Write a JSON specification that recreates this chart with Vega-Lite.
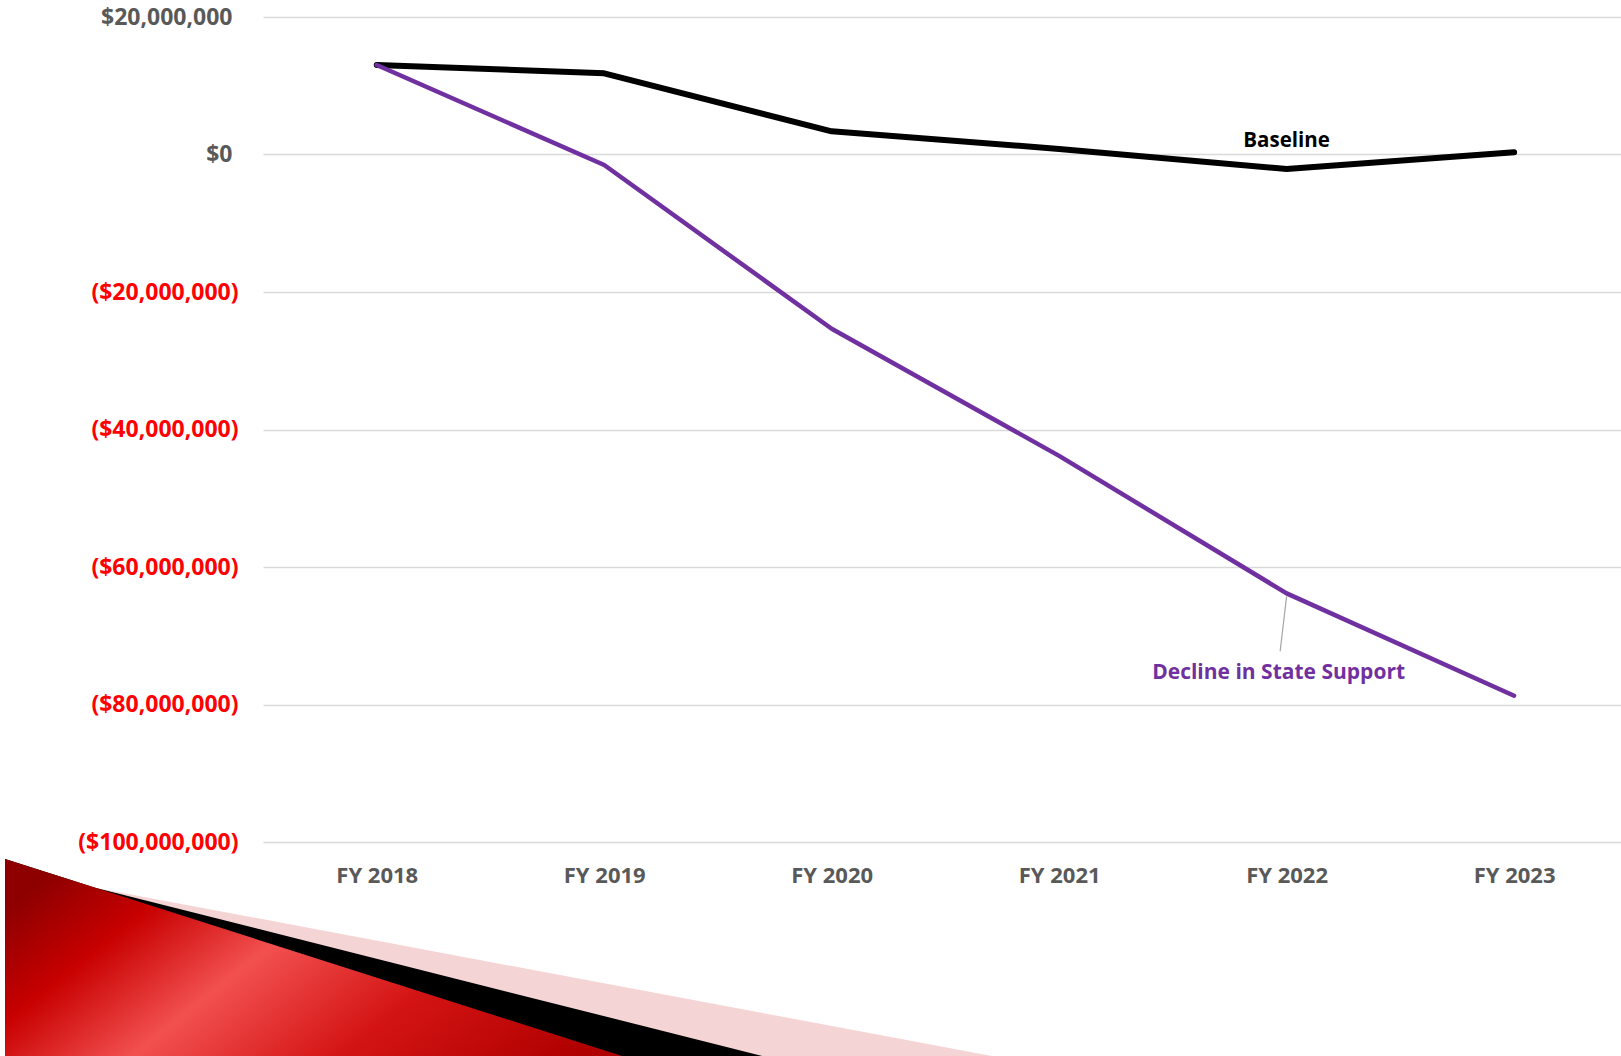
{
  "$schema": "https://vega.github.io/schema/vega-lite/v6.json",
  "autosize": {"type": "none"},
  "padding": {"left": 263, "top": 17, "right": 0, "bottom": 214},
  "width": 1358,
  "height": 825,
  "background": "white",
  "config": {"view": {"stroke": null}, "font": "Open Sans"},
  "datasets": {
    "fy": [
      {"year": 2018, "series": "Baseline", "value": 13020000},
      {"year": 2019, "series": "Baseline", "value": 11810000},
      {"year": 2020, "series": "Baseline", "value": 3370000},
      {"year": 2021, "series": "Baseline", "value": 810000},
      {"year": 2022, "series": "Baseline", "value": -2110000},
      {"year": 2023, "series": "Baseline", "value": 320000},
      {"year": 2018, "series": "Decline in State Support", "value": 13020000},
      {"year": 2019, "series": "Decline in State Support", "value": -1530000},
      {"year": 2020, "series": "Decline in State Support", "value": -25350000},
      {"year": 2021, "series": "Decline in State Support", "value": -43840000},
      {"year": 2022, "series": "Decline in State Support", "value": -63830000},
      {"year": 2023, "series": "Decline in State Support", "value": -78720000}
    ],
    "swoosh": [
      {"piece": "pink", "year": 2016.366, "value": -102470000},
      {"piece": "pink", "year": 2016.766, "value": -106690000},
      {"piece": "pink", "year": 2022.134, "value": -140000000},
      {"piece": "black", "year": 2016.366, "value": -102470000},
      {"piece": "black", "year": 2016.766, "value": -106690000},
      {"piece": "black", "year": 2020.758, "value": -140000000},
      {"piece": "red", "year": 2016.366, "value": -102470000},
      {"piece": "red", "year": 2019.918, "value": -140000000}
    ]
  },
  "encoding": {
    "x": {
      "field": "year", "type": "quantitative",
      "scale": {"domain": [2017.5, 2023.47], "nice": false, "zero": false},
      "axis": {
        "title": null, "values": [2018, 2019, 2020, 2021, 2022, 2023],
        "labelExpr": "'FY ' + datum.value",
        "grid": false, "ticks": false, "domain": false,
        "labelPadding": 23, "labelFontSize": 22, "labelFontWeight": "bold",
        "labelColor": "#595959", "labelFont": "Open Sans"
      }
    },
    "y": {
      "field": "value", "type": "quantitative",
      "scale": {"domain": [-100000000, 20000000], "nice": false, "zero": false},
      "axis": {
        "title": null,
        "values": [-100000000, -80000000, -60000000, -40000000, -20000000, 0, 20000000],
        "labelExpr": "datum.value < 0 ? '(' + format(-datum.value, '$,.0f') + ')' : format(datum.value, '$,.0f')",
        "labelColor": {"expr": "datum.value < 0 ? '#FF0000' : '#595959'"},
        "labelPadding": {"expr": "datum.value < 0 ? 25 : 31"},
        "grid": true, "gridColor": "#D9D9D9", "gridWidth": 1.5,
        "ticks": false, "domain": false,
        "labelFontSize": 23, "labelFontWeight": "bold",
        "labelFont": "Open Sans"
      }
    }
  },
  "layer": [
    {
      "data": {"name": "swoosh"},
      "transform": [{"filter": "datum.piece === 'pink'"}],
      "mark": {"type": "area", "fill": "#F5D4D5", "clip": false},
      "encoding": {"y2": {"datum": -140000000}}
    },
    {
      "data": {"name": "swoosh"},
      "transform": [{"filter": "datum.piece === 'black'"}],
      "mark": {"type": "area", "fill": "#000000", "clip": false},
      "encoding": {"y2": {"datum": -140000000}}
    },
    {
      "data": {"name": "swoosh"},
      "transform": [{"filter": "datum.piece === 'red'"}],
      "mark": {
        "type": "area", "clip": false,
        "fill": {
          "gradient": "linear", "x1": 0, "y1": 0.2, "x2": 1, "y2": 0.6,
          "stops": [
            {"offset": 0, "color": "#8E0000"},
            {"offset": 0.15, "color": "#C80000"},
            {"offset": 0.33, "color": "#F25050"},
            {"offset": 0.55, "color": "#D41414"},
            {"offset": 0.8, "color": "#B00000"}
          ]
        }
      },
      "encoding": {"y2": {"datum": -140000000}}
    },
    {
      "data": {"name": "fy"},
      "transform": [{"filter": "datum.series === 'Baseline'"}],
      "mark": {"type": "line", "color": "#000000", "strokeWidth": 6, "strokeCap": "round", "strokeJoin": "round"}
    },
    {
      "data": {"name": "fy"},
      "transform": [{"filter": "datum.series === 'Decline in State Support'"}],
      "mark": {"type": "line", "color": "#7030A0", "strokeWidth": 4.5, "strokeCap": "round", "strokeJoin": "round"}
    },
    {
      "data": {"name": "fy"},
      "transform": [{"filter": "datum.series === 'Decline in State Support' && datum.year === 2022"}],
      "mark": {"type": "rule", "color": "#A6A6A6", "strokeWidth": 1.2, "yOffset": 3, "x2Offset": -6.5, "y2Offset": 58},
      "encoding": {"x2": {"field": "year"}, "y2": {"field": "value"}}
    },
    {
      "data": {"name": "fy"},
      "transform": [{"filter": "datum.series === 'Baseline' && datum.year === 2022"}],
      "mark": {"type": "text", "font": "Open Sans", "fontWeight": "bold", "fontSize": 20.5, "color": "#000000", "baseline": "alphabetic", "align": "center", "dy": -22},
      "encoding": {"text": {"field": "series"}}
    },
    {
      "data": {"name": "fy"},
      "transform": [{"filter": "datum.series === 'Decline in State Support' && datum.year === 2022"}],
      "mark": {"type": "text", "font": "Open Sans", "fontWeight": "bold", "fontSize": 21, "color": "#7030A0", "baseline": "alphabetic", "align": "center", "dx": -8, "dy": 86},
      "encoding": {"text": {"field": "series"}}
    }
  ]
}
